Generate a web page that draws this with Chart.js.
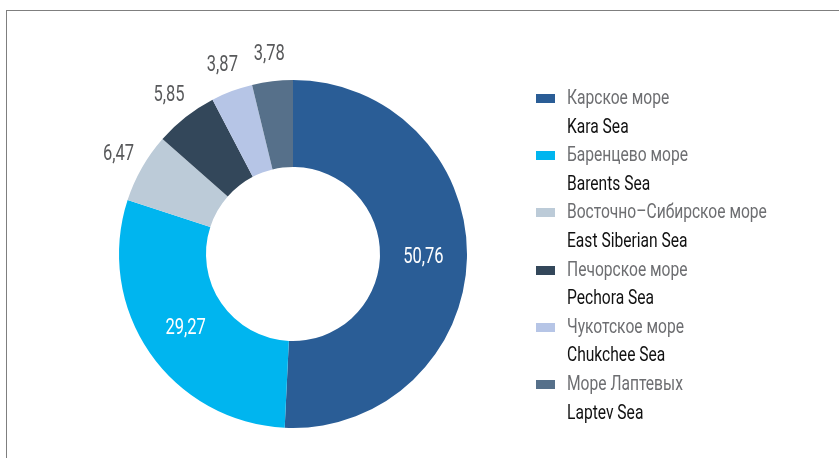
<!DOCTYPE html>
<html>
<head>
<meta charset="utf-8">
<style>
  html, body { margin: 0; padding: 0; background: #fff; }
  body { width: 839px; height: 458px; position: relative; overflow: hidden; font-family: Roboto, sans-serif; }
  .frame { position: absolute; left: 6px; top: 10px; width: 900px; height: 500px;
           border-top: 1px solid #7f7f7f; border-left: 1px solid #7f7f7f; }
  .wrap { position: absolute; left: 0; top: 0; width: 586px; height: 458px; }
  #legend { position: absolute; left: 536px; top: 83px; font-size: 20px; line-height: 28.6px; }
  #legend .ru { color: #6d6e71; white-space: nowrap; }
  #legend .en { color: #111; padding-left: 31px; white-space: nowrap; }
  #legend .sw { display: inline-block; width: 19px; height: 9px; margin-right: 12px; vertical-align: 1px; }
  #legend .t { display: inline-block; transform: scaleX(0.78); transform-origin: 0 50%; }
</style>
</head>
<body>
<div class="frame"></div>
<div class="wrap"><canvas id="seaChart"></canvas></div>
<div id="legend"></div>

<script src="https://cdn.jsdelivr.net/npm/chart.js"></script>
<script>
const namesRu = ['Карское море', 'Баренцево море', 'Восточно–Сибирское море', 'Печорское море', 'Чукотское море', 'Море Лаптевых'];
const namesEn = ['Kara Sea', 'Barents Sea', 'East Siberian Sea', 'Pechora Sea', 'Chukchee Sea', 'Laptev Sea'];
const shares = [50.76, 29.27, 6.47, 5.85, 3.87, 3.78];
const colors = ['#2a5d96', '#00b5ef', '#bccbd8', '#33475a', '#b6c5e6', '#56708a'];
const insideLabel = [true, true, false, false, false, false];

// legend as html
const legend = document.getElementById('legend');
namesRu.forEach((ru, i) => {
  const r = document.createElement('div');
  r.className = 'ru';
  r.innerHTML = '<span class="sw" style="background:' + colors[i] + '"></span><span class="t">' + ru + '</span>';
  const e = document.createElement('div');
  e.className = 'en';
  e.innerHTML = '<span class="t">' + namesEn[i] + '</span>';
  legend.appendChild(r);
  legend.appendChild(e);
});

// value labels on / around the slices (narrow font imitated with a horizontal squeeze)
const squeeze = 0.75;
const valueLabels = {
  id: 'valueLabels',
  afterDatasetsDraw(chart) {
    const ctx = chart.ctx;
    const meta = chart.getDatasetMeta(0);
    meta.data.forEach((arc, i) => {
      const txt = shares[i].toFixed(2).replace('.', ',');
      const mid = (arc.startAngle + arc.endAngle) / 2;
      let r, col;
      if (insideLabel[i]) {
        r = (arc.innerRadius + arc.outerRadius) / 2;
        col = '#ffffff';
      } else {
        r = arc.outerRadius + 27;
        col = '#58595b';
      }
      const x = arc.x + Math.cos(mid) * r;
      const y = arc.y + Math.sin(mid) * r;
      ctx.save();
      ctx.translate(x, y);
      ctx.scale(squeeze, 1);
      ctx.font = '22px Roboto, sans-serif';
      ctx.textAlign = 'center';
      ctx.textBaseline = 'middle';
      ctx.fillStyle = col;
      ctx.fillText(txt, 0, 0);
      ctx.restore();
    });
  }
};

new Chart(document.getElementById('seaChart'), {
  type: 'doughnut',
  data: {
    labels: namesEn,
    datasets: [{
      data: shares,
      backgroundColor: colors,
      borderWidth: 0
    }]
  },
  options: {
    responsive: true,
    maintainAspectRatio: false,
    animation: false,
    cutout: '50%',
    layout: { padding: { top: 80, bottom: 30, left: 119, right: 119 } },
    plugins: {
      legend: { display: false },
      tooltip: { enabled: false }
    }
  },
  plugins: [valueLabels]
});
</script>
</body>
</html>
